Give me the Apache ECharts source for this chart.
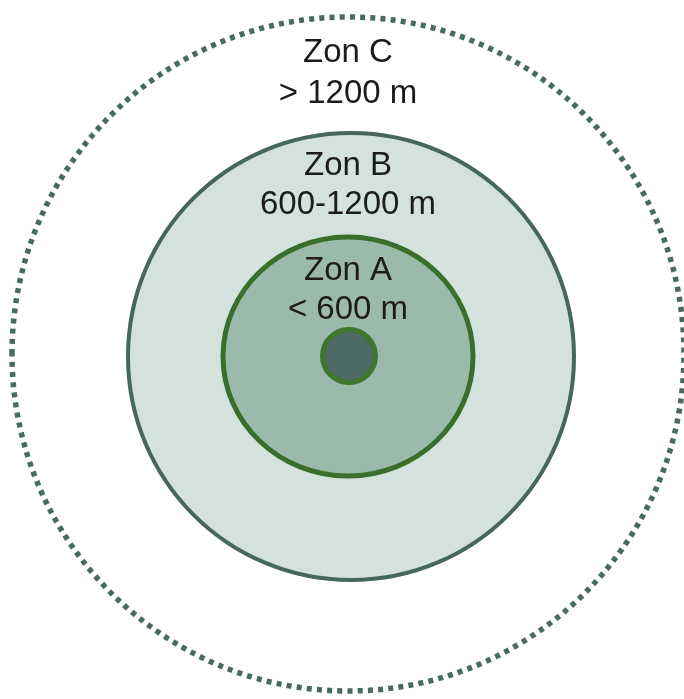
<!DOCTYPE html>
<html>
<head>
<meta charset="utf-8">
<style>html,body{margin:0;padding:0;background:#fff;}#chart{width:684px;height:699px;}</style>
<script src="https://cdn.jsdelivr.net/npm/echarts@6/dist/echarts.min.js"></script>
</head>
<body>
<div id="chart"></div>
<script>
// Data (units: pixel-scale map units, centre of zones at 0,0)
const zoneNames = ['Zon C', 'Zon B', 'Zon A', ''];
const zoneDistances = ['> 1200 m', '600-1200 m', '< 600 m', ''];
const centerX = [0, 3, 0, 1];
const centerY = [1, -1.5, -1.5, -1];
const radiusX = [336, 223, 125, 26.5];
const radiusY = [337, 223.5, 119.5, 26.5];

// Styles
const fills = ['rgba(0,0,0,0)', '#d3e2dc', '#9cbaab', '#4e6a64'];
const strokes = ['#4a6a60', '#46685a', '#3a6e2b', '#3c782e'];
const lineWidths = [5.5, 4, 5, 5];
const dashes = [[5, 5.2], null, null, null];

const chart = echarts.init(document.getElementById('chart'), null, {renderer: 'canvas'});
const circleData = zoneNames.map((n, i) => [centerX[i], centerY[i], radiusX[i], radiusY[i], i]);

const option = {
  animation: false,
  backgroundColor: '#ffffff',
  grid: {left: 0, right: 0, top: 0, bottom: 0},
  xAxis: {type: 'value', min: -348, max: 336, show: false},
  yAxis: {type: 'value', min: -344, max: 355, show: false},
  series: [
    {
      type: 'custom',
      coordinateSystem: 'cartesian2d',
      encode: {x: 0, y: 1},
      data: circleData,
      renderItem: function (params, api) {
        const i = api.value(4);
        const c = api.coord([api.value(0), api.value(1)]);
        const s = api.size([api.value(2), api.value(3)]);
        return {
          type: 'ellipse',
          shape: {cx: c[0], cy: c[1], rx: s[0], ry: s[1]},
          style: {
            fill: fills[i],
            stroke: strokes[i],
            lineWidth: lineWidths[i],
            lineDash: dashes[i] || null,
            lineCap: 'butt'
          },
          z2: i
        };
      },
      z: 1
    },
    {
      type: 'custom',
      coordinateSystem: 'cartesian2d',
      encode: {x: 0, y: 1},
      data: circleData,
      renderItem: function (params, api) {
        const i = api.value(4);
        if (!zoneNames[i]) return null;
        const c = api.coord([api.value(0), api.value(1)]);
        const s = api.size([api.value(2), api.value(3)]);
        const top = c[1] - s[1];
        const off1 = [36, 33, 34][i];
        const off2 = [77, 72, 73][i];
        const font = '33px "Liberation Sans", Arial, sans-serif';
        return {
          type: 'group',
          children: [
            {type: 'text', style: {x: c[0] - api.value(0), y: top + off1, text: zoneNames[i], font: font, fill: '#1c1c1c', align: 'center', verticalAlign: 'middle'}},
            {type: 'text', style: {x: c[0] - api.value(0), y: top + off2, text: zoneDistances[i], font: font, fill: '#1c1c1c', align: 'center', verticalAlign: 'middle'}}
          ]
        };
      },
      z: 5
    }
  ]
};
chart.setOption(option);
</script>
</body>
</html>
